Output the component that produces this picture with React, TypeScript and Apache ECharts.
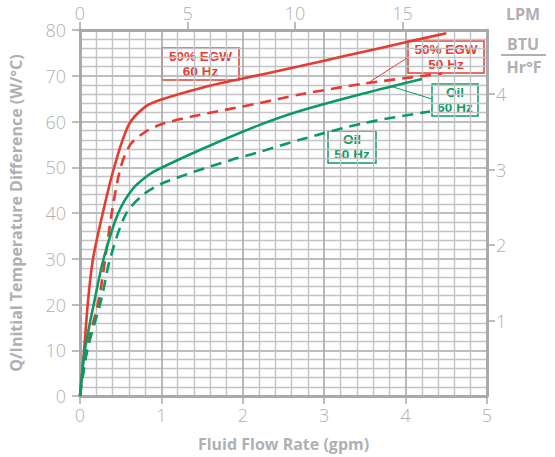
import React, { useEffect, useRef } from "react";
import * as echarts from "echarts";

// Flow rate (gpm) / Q per initial temperature difference (W/°C)
const egw60: [number, number][] = [
  [0, 0], [0.05, 10], [0.1, 21], [0.16, 30], [0.28, 40], [0.42, 50], [0.6, 59.3],
  [0.8, 63.2], [1.0, 64.8], [1.5, 67.4], [2.0, 69.4], [2.5, 71.3], [3.0, 73.3],
  [3.5, 75.3], [4.0, 77.3], [4.5, 79.3],
];
const egw50: [number, number][] = [
  [0, 0], [0.08, 10], [0.23, 21], [0.31, 30], [0.39, 40], [0.5, 50], [0.62, 55],
  [0.8, 57.7], [1.0, 59.4], [1.4, 61.2], [1.8, 62.6], [2.2, 64.0], [2.7, 65.9],
  [3.5, 68.3], [4.45, 70.5],
];
const oil60: [number, number][] = [
  [0, 0], [0.06, 10], [0.18, 21], [0.29, 30], [0.47, 40], [0.65, 45.3], [0.85, 48.4],
  [1.0, 49.9], [1.5, 54.0], [2.2, 59.2], [2.7, 62.3], [3.5, 66.2], [4.2, 69.3],
];
const oil50: [number, number][] = [
  [0, 0], [0.09, 10], [0.26, 21], [0.37, 30], [0.57, 40], [0.8, 44.3], [1.0, 46.4],
  [1.4, 49.0], [1.84, 51.5], [2.2, 53.3], [2.7, 56.0], [3.5, 59.7], [4.3, 62.2],
];

const gpmTicks = [0, 1, 2, 3, 4, 5];
const lpmTicks = [0, 5, 10, 15];
const btuTicks = [1, 2, 3, 4];
const wTicks = [0, 10, 20, 30, 40, 50, 60, 70, 80];

const LPM_PER_GPM = 3.785;
const W_PER_BTU_UNIT = 16.5;

const RED = "#e63b30";
const GREEN = "#0c9a63";
const GRAY = "#b0b0b3";
const FONT = "Open Sans";
const BOX_FONT = "Liberation Sans";

export default function App() {
  const ref = useRef<HTMLDivElement>(null);
  useEffect(() => {
    if (!ref.current) return;
    const chart = echarts.init(ref.current, null, { renderer: "svg" });
    const axisLineStyle = { color: "#a9a9ad", width: 3 };
    const tickStyle = { color: "#a9a9ad", width: 1.5 };
    const labelStyle = { color: GRAY, fontSize: 18, fontFamily: FONT, fontWeight: 300 as any };
    const nameStyle = { color: GRAY, fontSize: 16, fontFamily: FONT, fontWeight: "bold" as any };

    const mkLine = (data: [number, number][], color: string, dashed: boolean) => ({
      type: "line",
      data,
      smooth: 0.3,
      showSymbol: false,
      symbol: "none",
      xAxisIndex: 0,
      yAxisIndex: 0,
      lineStyle: { color, width: 2.6, type: dashed ? [11, 7] : "solid" },
      z: 5,
    });

    const box = (x: number, y: number, w: number, h: number, color: string, l1: string, l2: string) => ({
      type: "group",
      z: 20,
      children: [
        { type: "rect", shape: { x, y, width: w, height: h }, style: { fill: "#fff", stroke: color, lineWidth: 1.5 } },
        {
          type: "text",
          x: x + w / 2,
          y: y + h / 2 - 7.9,
          style: { text: l1, fill: color, font: `bold 13.5px "${BOX_FONT}"`, align: "center", verticalAlign: "middle" },
        },
        {
          type: "text",
          x: x + w / 2,
          y: y + h / 2 + 7.9,
          style: { text: l2, fill: color, font: `bold 13.5px "${BOX_FONT}"`, align: "center", verticalAlign: "middle" },
        },
      ],
    });

    chart.setOption({
      animation: false,
      backgroundColor: "#fff",
      grid: { left: 80, right: 68, top: 30, bottom: 60, containLabel: false },
      xAxis: [
        {
          type: "value",
          position: "bottom",
          min: 0,
          max: 5,
          interval: 1,
          name: "Fluid Flow Rate (gpm)",
          nameLocation: "middle",
          nameGap: 40,
          nameTextStyle: nameStyle,
          axisLine: { show: true, onZero: false, lineStyle: axisLineStyle },
          axisTick: { show: true, length: 8, lineStyle: tickStyle, customValues: gpmTicks },
          axisLabel: { ...labelStyle, margin: 10, customValues: gpmTicks },
          splitLine: { show: true, lineStyle: { color: "#a8a8ad", width: 1.6 } },
          minorTick: { show: false, splitNumber: 5 },
          minorSplitLine: { show: true, lineStyle: { color: "#c3c3c7", width: 1.4 } },
        },
        {
          type: "value",
          position: "top",
          min: 0,
          max: 5 * LPM_PER_GPM,
          interval: 5,
          axisLine: { show: true, onZero: false, lineStyle: axisLineStyle },
          axisTick: { show: true, length: 8, lineStyle: tickStyle, customValues: lpmTicks },
          axisLabel: { ...labelStyle, margin: 8, customValues: lpmTicks },
          splitLine: { show: false },
        },
      ],
      yAxis: [
        {
          type: "value",
          position: "left",
          min: 0,
          max: 80,
          interval: 10,
          name: "Q/Initial Temperature Difference (W/°C)",
          nameLocation: "middle",
          nameGap: 56,
          nameTextStyle: nameStyle,
          axisLine: { show: true, onZero: false, lineStyle: axisLineStyle },
          axisTick: { show: true, length: 8, lineStyle: tickStyle, customValues: wTicks },
          axisLabel: { ...labelStyle, margin: 14, customValues: wTicks },
          splitLine: { show: true, lineStyle: { color: "#a8a8ad", width: 1.6 } },
          minorTick: { show: false, splitNumber: 5 },
          minorSplitLine: { show: true, lineStyle: { color: "#c3c3c7", width: 1.4 } },
        },
        {
          type: "value",
          position: "right",
          min: 0,
          max: 80 / W_PER_BTU_UNIT,
          interval: 1,
          axisLine: { show: true, onZero: false, lineStyle: axisLineStyle },
          axisTick: { show: true, length: 8, lineStyle: tickStyle, customValues: btuTicks },
          axisLabel: { ...labelStyle, margin: 9, customValues: btuTicks },
          splitLine: { show: false },
        },
      ],
      series: [
        mkLine(egw60, RED, false),
        mkLine(egw50, RED, true),
        mkLine(oil60, GREEN, false),
        mkLine(oil50, GREEN, true),
      ],
      graphic: [
        { type: "line", z: 19, shape: { x1: 407, y1: 58, x2: 368, y2: 83 }, style: { stroke: RED, lineWidth: 1 } },
        { type: "line", z: 19, shape: { x1: 390, y1: 86, x2: 432, y2: 99 }, style: { stroke: GREEN, lineWidth: 1 } },
        box(162, 48, 77, 32, RED, "50% EGW", "60 Hz"),
        box(408, 41, 76, 32, RED, "50% EGW", "50 Hz"),
        box(432, 84, 46, 32, GREEN, "Oil", "60 Hz"),
        box(328, 131, 48, 32, GREEN, "Oil", "50 Hz"),
        {
          type: "text",
          x: 523,
          y: 14,
          style: { text: "LPM", fill: GRAY, font: `bold 16px "${FONT}"`, align: "center", verticalAlign: "middle" },
        },
        {
          type: "text",
          x: 523,
          y: 44,
          style: { text: "BTU", fill: GRAY, font: `bold 16px "${FONT}"`, align: "center", verticalAlign: "middle" },
        },
        { type: "line", shape: { x1: 501, y1: 55, x2: 546, y2: 55 }, style: { stroke: GRAY, lineWidth: 2 } },
        {
          type: "text",
          x: 524,
          y: 67,
          style: { text: "Hr°F", fill: GRAY, font: `bold 16px "${FONT}"`, align: "center", verticalAlign: "middle" },
        },
      ],
    });
    return () => chart.dispose();
  }, []);
  return <div ref={ref} style={{ position: "fixed", left: 0, top: 0, width: 555, height: 457 }} />;
}
